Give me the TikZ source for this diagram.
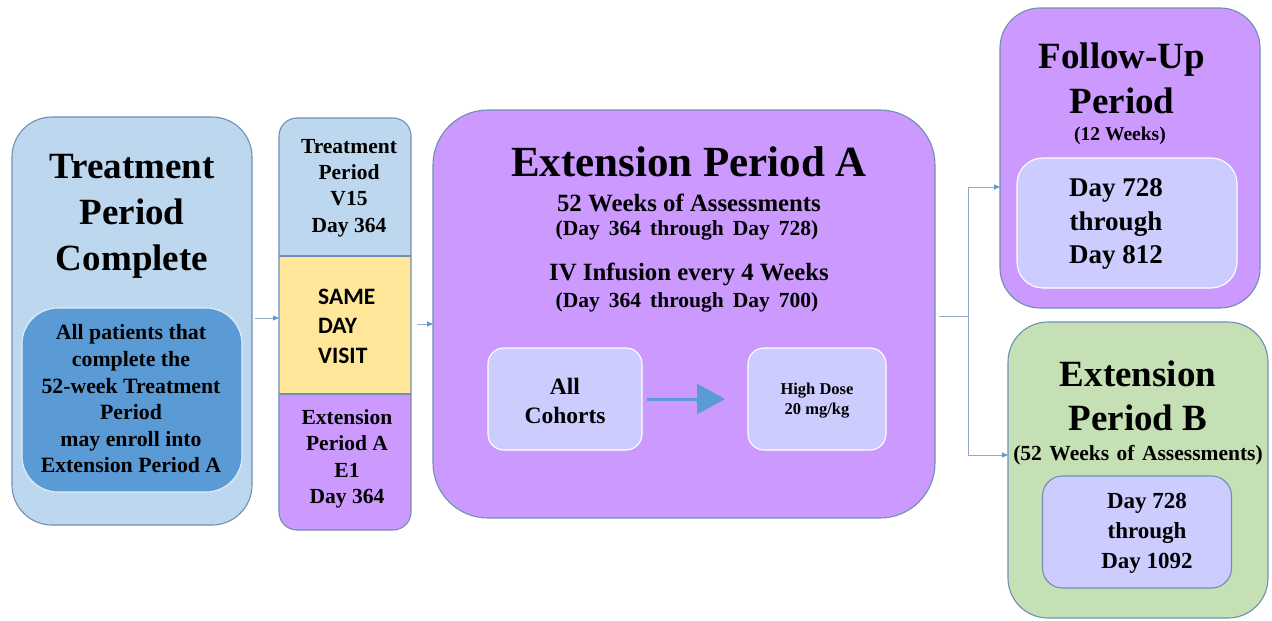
\documentclass[tikz,border=0pt]{standalone}
\usepackage{fontspec}
\setmainfont{Liberation Serif}
\newfontfamily\carlito{Carlito}
\usetikzlibrary{arrows.meta}

\definecolor{lightblue}{HTML}{BDD7EE}
\definecolor{midblue}{HTML}{5B9BD5}
\definecolor{lilac}{HTML}{CC99FF}
\definecolor{paleyellow}{HTML}{FFE699}
\definecolor{lavender}{HTML}{CCCCFF}
\definecolor{palegreen}{HTML}{C5E0B4}
\definecolor{edgeblue}{HTML}{6F8FB3}
\definecolor{linkgray}{HTML}{8FA9C6}

\tikzset{
  panel/.style={draw=edgeblue, line width=1.1pt, inner sep=0pt, outer sep=0pt},
  inset/.style={draw=white, line width=1.1pt, inner sep=0pt, outer sep=0pt, fill=lavender},
  txt/.style={inner sep=0pt, outer sep=0pt, align=center, font=\bfseries},
  fs/.style 2 args={font=\bfseries\fontsize{#1}{#2}\selectfont},
  widesp/.style={execute at begin node={\spaceskip=#1em plus 0.1em\relax}},
  link/.style={draw=linkgray, line width=0.9pt, -{Triangle[length=6pt,width=5pt,color=midblue]}},
}

\begin{document}
\begin{tikzpicture}[x=1pt, y=-1pt]
\useasboundingbox (0,0) rectangle (1272,621);

% ---- Treatment Period Complete ----
\node[panel, fill=lightblue, rounded corners=40pt, minimum width=240pt, minimum height=408pt] (tpc) at (132,321) {};
\node[inset, fill=midblue, draw=white!85!midblue, rounded corners=36pt, minimum width=220pt, minimum height=184pt] (tpcin) at (132,400) {};
\node[txt, fs={37}{46}] (tpct) at (132,216) {Treatment\\Period\\Complete};
\node[txt, fs={21.8}{26.6}] (tpcit) at (131,399) {All patients that\\complete the\\52-week Treatment\\Period\\may enroll into\\Extension Period A};

% ---- Same-day visit column ----
\fill[lightblue, rounded corners=18pt] (279,118) rectangle (411,290);
\fill[lilac, rounded corners=18pt] (279,360) rectangle (411,530);
\fill[paleyellow] (279,256) rectangle (411,394);
\node[panel, rounded corners=18pt, minimum width=132pt, minimum height=412pt] (col) at (345,324) {};
\draw[edgeblue, line width=1.1pt] (col.west |- 0,256) -- (col.east |- 0,256);
\draw[edgeblue, line width=1.1pt] (col.west |- 0,394) -- (col.east |- 0,394);
\node[txt, fs={21.5}{26.3}] (colt) at (349,188) {Treatment\\Period\\V15\\Day 364};
\node[inner sep=0pt, align=left, anchor=west, font=\carlito\bfseries\fontsize{23.5}{29.5}\selectfont] (colm) at (318,326) {SAME\\DAY\\VISIT};
\node[txt, fs={21.5}{26.3}] (colb) at (347,459) {Extension\\Period A\\E1\\Day 364};

% ---- Extension Period A ----
\node[panel, fill=lilac, rounded corners=55pt, minimum width=502pt, minimum height=408pt] (extA) at (684,314) {};
\node[txt, fs={43}{50}] (extAt) at (689,162) {Extension Period A};
\node[txt, fs={24.8}{28}] (extAs1) at (689,203) {52 Weeks of Assessments};
\node[txt, fs={21.5}{24}, widesp=0.42] (extAp1) at (687,230) {(Day 364 through Day 728)};
\node[txt, fs={24.8}{28}] (extAs2) at (689,274) {IV Infusion every 4 Weeks};
\node[txt, fs={21.5}{24}, widesp=0.42] (extAp2) at (687,302) {(Day 364 through Day 700)};
\node[inset, rounded corners=16pt, minimum width=154pt, minimum height=102pt] (coh) at (565,399) {};
\node[txt, fs={23.5}{28.5}] (coht) at (565,401) {All\\Cohorts};
\node[inset, rounded corners=16pt, minimum width=138pt, minimum height=102pt] (hd) at (817,399) {};
\node[txt, fs={16.5}{20}] (hdt) at (817,401) {High Dose\\20 mg/kg};
\draw[midblue, line width=3pt, -{Triangle[length=28pt,width=30pt]}] ([xshift=5pt]coh.east) -- ([xshift=-23pt]hd.west);

% ---- Follow-Up Period ----
\node[panel, fill=lilac, rounded corners=40pt, minimum width=260pt, minimum height=300pt] (fu) at (1130,158) {};
\node[txt, fs={37}{45}] (fut) at (1122,78) {Follow-Up\\Period};
\node[txt, fs={19.5}{21}] (fup) at (1120,136) {(12 Weeks)};
\node[inset, rounded corners=26pt, minimum width=220pt, minimum height=130pt] (fuin) at (1127,223) {};
\node[txt, fs={27}{33.5}] (fuint) at (1116,224) {Day 728\\through\\Day 812};

% ---- Extension Period B ----
\node[panel, fill=palegreen, rounded corners=40pt, minimum width=260pt, minimum height=296pt] (eb) at (1138,470) {};
\node[txt, fs={37}{44}] (ebt) at (1138,396) {Extension\\Period B};
\node[txt, fs={21.5}{23}, widesp=0.35] (ebp) at (1138,455) {(52 Weeks of Assessments)};
\node[inset, draw=edgeblue, rounded corners=20pt, minimum width=189pt, minimum height=112pt] (ebin) at (1137,532) {};
\node[txt, fs={23}{30}] (ebint) at (1147,533) {Day 728\\through\\Day 1092};

% ---- Connectors ----
\draw[link] ([xshift=3pt,yshift=3pt]tpc.east) -- ([yshift=3pt]tpc.east -| col.west);
\draw[link] ([xshift=6pt]col.east) -- (col.east -| extA.west);
\coordinate (split) at (968,316);
\draw[linkgray, line width=0.9pt] ([xshift=4pt]extA.east |- split) -- (split);
\draw[link] (split) |- ([yshift=-29pt]fu.west);
\draw[link] (split) |- ([yshift=15pt]eb.west);
\end{tikzpicture}
\end{document}
